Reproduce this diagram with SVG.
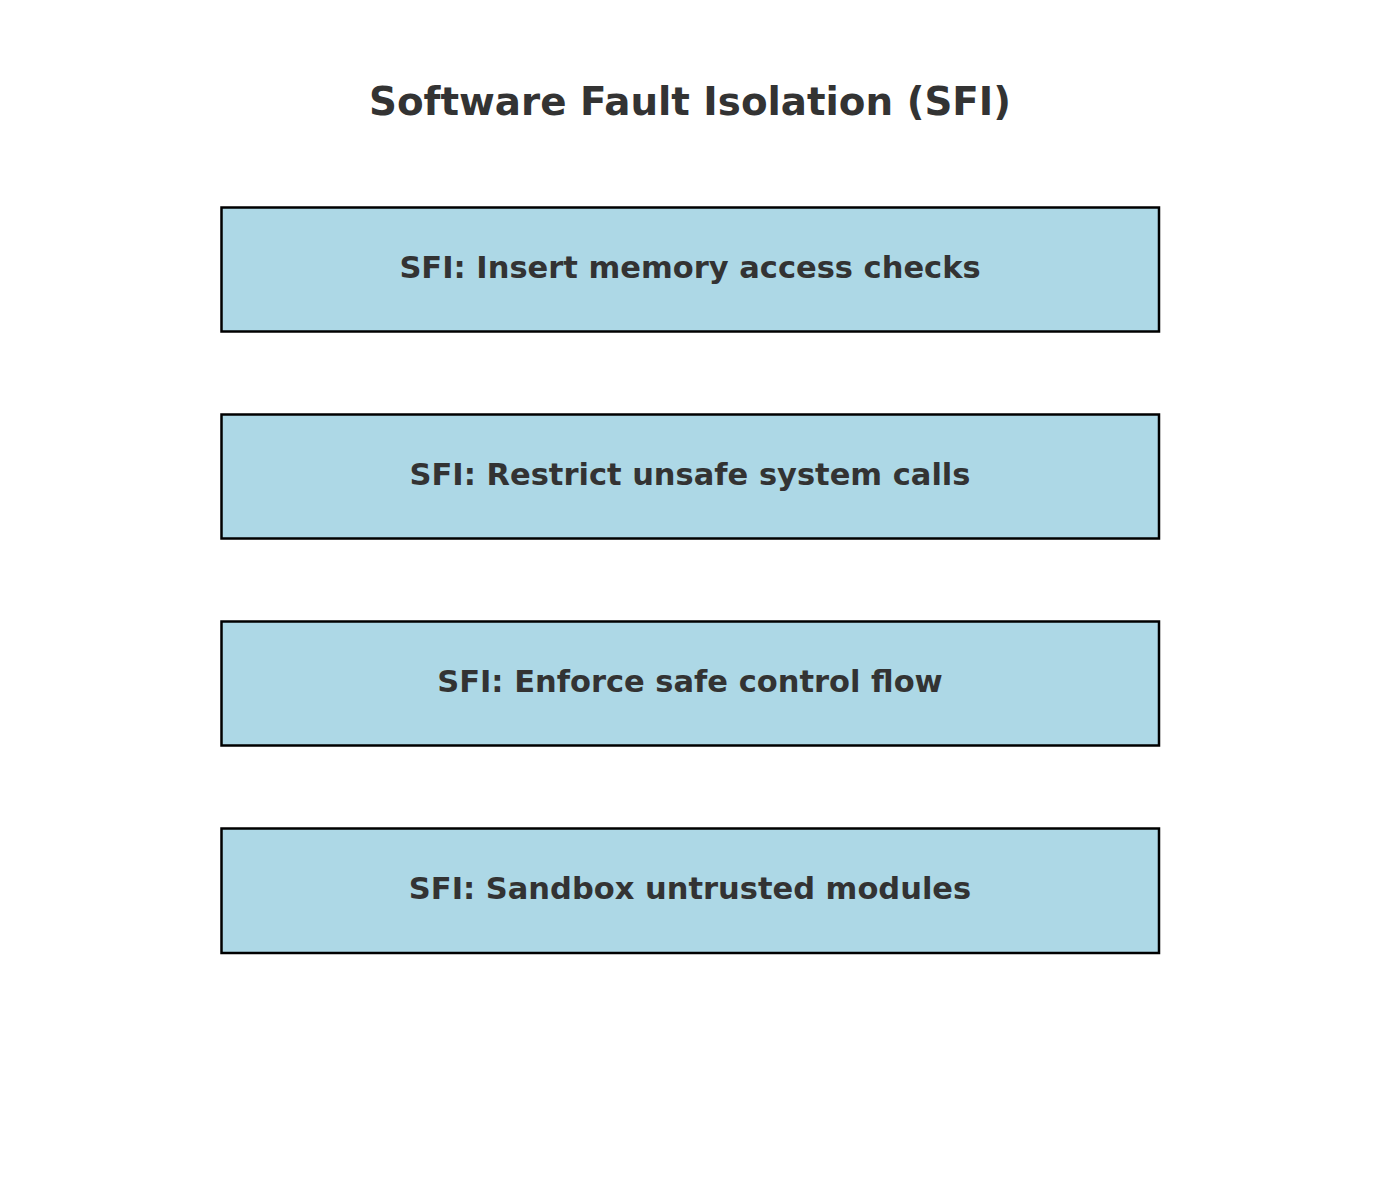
<svg xmlns="http://www.w3.org/2000/svg" width="1380" height="1180" viewBox="0 0 1380 1180">
<style>
.box{fill:#ADD8E6;stroke:#000;stroke-width:2.5}
.lbl{font-family:"DejaVu Sans",sans-serif;font-weight:bold;font-size:30.5px;fill:#333;text-anchor:middle;dominant-baseline:central}
.title{font-family:"DejaVu Sans",sans-serif;font-weight:bold;font-size:38.8px;fill:#333;text-anchor:middle}
</style>
<rect width="1380" height="1180" fill="#fff"/>
<text class="title" x="690" y="115">Software Fault Isolation (SFI)</text>
<g id="connectors"></g>
<g id="n1"><rect class="box" x="221.5" y="207.5" width="937.5" height="124"/><text class="lbl" x="690" y="267">SFI: Insert memory access checks</text></g>
<g id="n2"><rect class="box" x="221.5" y="414.5" width="937.5" height="124"/><text class="lbl" x="690" y="474">SFI: Restrict unsafe system calls</text></g>
<g id="n3"><rect class="box" x="221.5" y="621.5" width="937.5" height="124"/><text class="lbl" x="690" y="681">SFI: Enforce safe control flow</text></g>
<g id="n4"><rect class="box" x="221.5" y="828.5" width="937.5" height="124.5"/><text class="lbl" x="690" y="888">SFI: Sandbox untrusted modules</text></g>
</svg>
